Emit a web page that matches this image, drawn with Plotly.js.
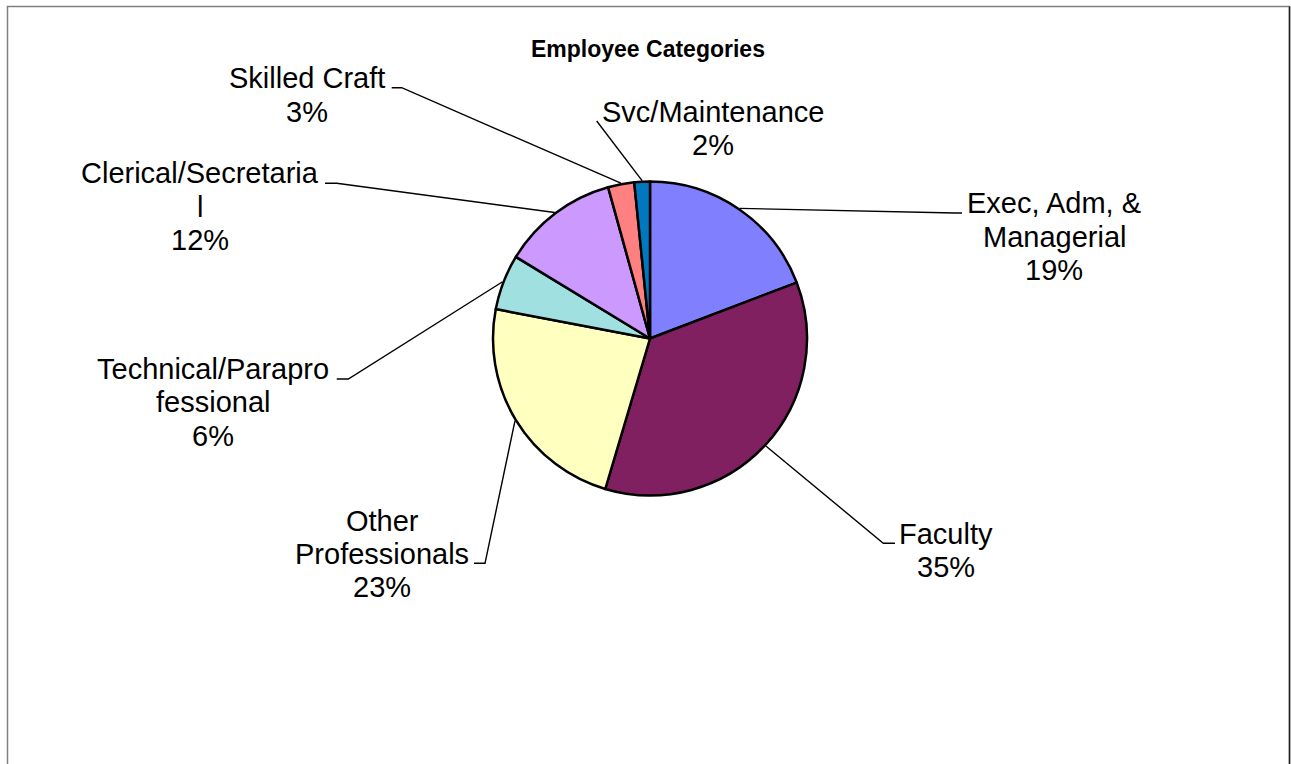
<!DOCTYPE html>
<html>
<head>
<meta charset="utf-8">
<script src="https://cdn.plot.ly/plotly-3.0.1.min.js"></script>
<style>html,body{margin:0;padding:0;background:#fff;}#chart{width:1291px;height:764px;}</style>
</head>
<body>
<div id="chart"></div>
<script>
// ---- data ----
const categories = ['Exec, Adm, & Managerial', 'Faculty', 'Other Professionals', 'Technical/Paraprofessional', 'Clerical/Secretarial', 'Skilled Craft', 'Svc/Maintenance'];
const values = [19.2, 35.4, 23.4, 5.7, 12.0, 2.7, 1.6];
const labelLines = [['Exec, Adm, &', 'Managerial'], ['Faculty'], ['Other', 'Professionals'], ['Technical/Parapro', 'fessional'], ['Clerical/Secretaria', 'l'], ['Skilled Craft'], ['Svc/Maintenance']];
const chartTitle = 'Employee Categories';

// ---- styles / layout ----
const colors = ['#8080FF', '#802060', '#FFFFC0', '#A0E0E0', '#CC99FF', '#FF8080', '#0078C0'];
const W = 1291, H = 764;
const CX = 650, CY = 338.5, R = 157;
const FONT = 'Liberation Sans, Arial, sans-serif';
const FS = 29, GAP = 33.4;
// label block: centre x, first-line baseline y
const labelPos = [
  {cx: 1054, y0: 213.3}, {cx: 946.5, y0: 544}, {cx: 382, y0: 530.7},
  {cx: 212.5, y0: 379}, {cx: 200, y0: 183.3}, {cx: 307, y0: 88.3}, {cx: 712.5, y0: 121.7}
];
// leader line elbow and end point per label
const leaderPts = [
  [[955, 213], [962, 213]], [[883.3, 543.3], [895, 543.3]], [[485, 563.3], [474, 563.3]],
  [[348.3, 379], [336.7, 379]], [[336.7, 183.3], [325, 183.3]], [[401.7, 87.7], [391.7, 87.7]],
  [[596.7, 121], [596.7, 121]]
];

const px = x => x / W;
const py = y => 1 - y / H;

const total = values.reduce((a, b) => a + b, 0);
const annotations = [];
const shapes = [];

// title
annotations.push({
  xref: 'paper', yref: 'paper', x: px(647.5), y: py(56.7 - 0.3465 * 23),
  xanchor: 'center', yanchor: 'middle', showarrow: false,
  text: '<b>' + chartTitle + '</b>', font: {family: FONT, size: 23, color: '#000'}
});

let cum = 0;
values.forEach((v, i) => {
  const mid = (cum + v / 2) / total * 2 * Math.PI;
  cum += v;
  const sx = CX + (R + 1) * Math.sin(mid), sy = CY - (R + 1) * Math.cos(mid);
  const pts = [[sx, sy]].concat(leaderPts[i]);
  const path = pts.map((p, k) => (k ? 'L' : 'M') + px(p[0]).toFixed(5) + ',' + py(p[1]).toFixed(5)).join(' ');
  shapes.push({type: 'path', xref: 'paper', yref: 'paper', path: path, line: {color: '#000', width: 1.4}});

  const lines = labelLines[i].concat([Math.round(v / total * 100) + '%']);
  lines.forEach((t, k) => {
    const base = labelPos[i].y0 + k * GAP;
    annotations.push({
      xref: 'paper', yref: 'paper', x: px(labelPos[i].cx), y: py(base - 0.3465 * FS),
      xanchor: 'center', yanchor: 'middle', showarrow: false,
      text: t, font: {family: FONT, size: FS, color: '#000'}
    });
  });
});

// chart area border
shapes.push({type: 'rect', xref: 'paper', yref: 'paper', x0: px(7.5), x1: px(1289.5), y0: py(800), y1: py(6.5),
  line: {color: '#808080', width: 1.5}, layer: 'below'});
shapes.push({type: 'line', xref: 'paper', yref: 'paper', x0: px(1289.5), x1: px(1289.5), y0: py(800), y1: py(6.5),
  line: {color: '#222', width: 1.5}, layer: 'below'});

const trace = {
  type: 'pie', labels: categories, values: values, sort: false, direction: 'clockwise', rotation: 0,
  marker: {colors: colors, line: {color: '#000', width: 2.5}},
  textinfo: 'none', hoverinfo: 'label+percent', showlegend: false,
  domain: {x: [px(CX - R), px(CX + R)], y: [py(CY + R), py(CY - R)]}
};

const layout = {
  width: W, height: H, margin: {l: 0, r: 0, t: 0, b: 0},
  paper_bgcolor: '#fff', plot_bgcolor: '#fff', showlegend: false,
  annotations: annotations, shapes: shapes
};

Plotly.newPlot('chart', [trace], layout, {displayModeBar: false, staticPlot: true});
</script>
</body>
</html>
